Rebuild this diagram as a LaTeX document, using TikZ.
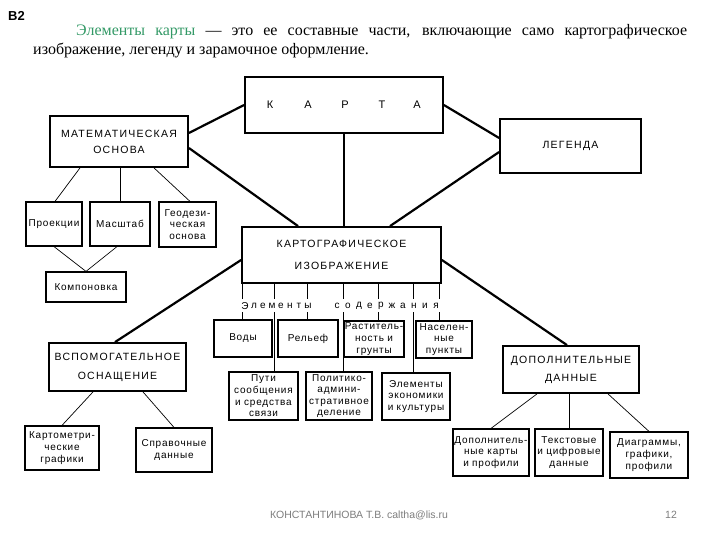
\documentclass[tikz,border=0pt]{standalone}
\usepackage{fontspec}
\setmainfont{Liberation Serif}
\setsansfont{Liberation Sans}
\newfontfamily\dfont[LetterSpace=8]{Liberation Sans}
\newfontfamily\capfont[LetterSpace=12]{Liberation Sans}
\usetikzlibrary{calc}
\definecolor{grn}{RGB}{51,153,102}
\definecolor{foot}{RGB}{125,125,125}
\begin{document}
\begin{tikzpicture}[x=1pt,y=-1pt,
  bx/.style 2 args={draw, line width=1.2pt, inner xsep=0pt, inner ysep=0pt,
    text width=#1, minimum height=#2, align=center,
    font=\dfont\fontsize{10}{11.6}\selectfont},
  big/.style={line width=1.8pt, font=\capfont\fontsize{10.5}{12}\selectfont},
  lbl/.style={inner sep=0pt, font=\dfont\fontsize{10}{12}\selectfont},
  thicklink/.style={line width=2.2pt},
  thinlink/.style={line width=0.7pt},
  tick/.style={line width=0.9pt}]
\useasboundingbox (0,0) rectangle (720,540);

% header
\node[anchor=base west, inner sep=0pt, font=\sffamily\bfseries\fontsize{13}{15}\selectfont] (b2) at (8,21) {B2};
\node[anchor=north west, inner sep=0pt, text width=654pt, align=justify,
  font=\fontsize{16}{19}\selectfont] (para) at (33,24.5)
  {\hspace*{43pt}\textcolor{grn}{Элементы карты} — это ее составные части, включающие само картографическое\linebreak изображение, легенду и зарамочное оформление.};

% main boxes
\node[bx={198}{56}, big] (karta) at (344,105) {};
\foreach \ch/\xx [count=\i] in {К/270,А/308,Р/345,Т/382,А/417}
  \node[lbl, font=\capfont\fontsize{11}{12}\selectfont] (kl\i) at (\xx,105) {\ch};
\node[bx={138}{51}, big] (mat) at (119,141.5) {МАТЕМАТИЧЕСКАЯ\\[4pt]ОСНОВА};
\node[bx={141}{54}, big] (leg) at (570.5,146) {ЛЕГЕНДА};
\node[bx={199}{56}, big] (kiz) at (341.5,255) {КАРТОГРАФИЧЕСКОЕ\\[10pt]ИЗОБРАЖЕНИЕ};
\node[bx={137}{48}, big] (vsp) at (117.5,367) {ВСПОМОГАТЕЛЬНОЕ\\[7pt]ОСНАЩЕНИЕ};
\node[bx={136}{47}, big] (dop) at (571,369.5) {ДОПОЛНИТЕЛЬНЫЕ\\[6pt]ДАННЫЕ};

% math children
\node[bx={56}{44}] (proj) at (54,224) {Проекции};
\node[bx={60}{44}] (masht) at (120,224) {Масштаб};
\node[bx={57}{45}] (geod) at (187.5,224.5) {Геодези-\\ческая\\основа};
\node[bx={80}{30}] (komp) at (86,287) {Компоновка};

% content elements
\node[bx={58}{37}] (vody) at (243,338.5) {Воды};
\node[bx={60}{37}] (relef) at (308,338.5) {Рельеф};
\node[bx={60}{36}] (rast) at (374,339) {Раститель-\\ность и\\грунты};
\node[bx={56}{37}] (nas) at (444,339.5) {Населен-\\ные\\пункты};
\node[bx={69}{48}] (puti) at (263.5,396) {Пути\\сообщения\\и средства\\связи};
\node[bx={66}{48}] (polit) at (339,396) {Политико-\\админи-\\стративное\\деление};
\node[bx={68}{47}] (econ) at (416,396.5) {Элементы\\экономики\\и культуры};

% auxiliary children
\node[bx={74}{44}] (kartom) at (62,448) {Картометри-\\ческие\\графики};
\node[bx={76}{44}] (sprav) at (174,450) {Справочные\\данные};

% additional children
\node[bx={76}{47}] (dopk) at (491,452.5) {Дополнитель-\\ные карты\\и профили};
\node[bx={68}{47}] (tekst) at (569,452.5) {Текстовые\\и цифровые\\данные};
\node[bx={78}{46}] (diag) at (649,455) {Диаграммы,\\графики,\\профили};

% thick connectors
\draw[thicklink] (karta.west) -- ([yshift=8.5pt]mat.east);
\draw[thicklink] ([yshift=-6.5pt]mat.east) -- ([xshift=-43.5pt]kiz.north);
\draw[thicklink] (karta.south) -- (karta.south |- kiz.north);
\draw[thicklink] (karta.east) -- ([yshift=8pt]leg.west);
\draw[thicklink] ([yshift=-6pt]leg.west) -- ([xshift=48.5pt]kiz.north);
\draw[thicklink] ([yshift=-5pt]kiz.east) -- ([xshift=-4pt]dop.north);
\draw[thicklink] ([yshift=-5pt]kiz.west) -- ([xshift=-2.5pt]vsp.north);

% thin connectors
\draw[thinlink] ([xshift=-39pt]mat.south) -- ([xshift=1pt]proj.north);
\draw[thinlink] (masht.north |- mat.south) -- (masht.north);
\draw[thinlink] ([xshift=35pt]mat.south) -- ([xshift=2.5pt]geod.north);
\draw[thinlink] (proj.south) -- (komp.north);
\draw[thinlink] ([xshift=-3pt]masht.south) -- (komp.north);
\draw[thinlink] ([xshift=-24.5pt]vsp.south) -- (kartom.north);
\draw[thinlink] ([xshift=25.5pt]vsp.south) -- (sprav.north);
\draw[thinlink] ([xshift=-34pt]dop.south) -- (dopk.north);
\draw[thinlink] (tekst.north |- dop.south) -- (tekst.north);
\draw[thinlink] ([xshift=37pt]dop.south) -- (diag.north);

% content ticks
\draw[tick] ([xshift=-1pt]vody.north) -- ([xshift=-1pt]vody.north |- kiz.south);
\draw[tick] ([xshift=10.5pt]puti.north) -- ([xshift=10.5pt]puti.north |- kiz.south);
\draw[tick] ([xshift=-1pt]relef.north) -- ([xshift=-1pt]relef.north |- kiz.south);
\draw[tick] ([xshift=4pt]polit.north) -- ([xshift=4pt]polit.north |- kiz.south);
\draw[tick] ([xshift=4pt]rast.north) -- ([xshift=4pt]rast.north |- kiz.south);
\draw[tick] ([xshift=-3pt]econ.north) -- ([xshift=-3pt]econ.north |- kiz.south);
\draw[tick] ([xshift=-5pt]nas.north) -- ([xshift=-5pt]nas.north |- kiz.south);

\node[fill=white, inner sep=0pt, minimum width=206pt, minimum height=13pt] (gap) at (341,305.5) {};
\foreach \ch/\xx [count=\i] in {Э/245,л/254,е/263,м/272,е/281,н/290,т/299,ы/308,
  с/337,о/348,д/359,е/370,р/381,ж/392,а/403,н/414,и/425,я/436}
  \node[lbl] (el\i) at (\xx,306) {\ch};

% footer
\node[anchor=west, inner sep=0pt, text=foot, font=\sffamily\fontsize{10.5}{12}\selectfont] (foot1) at (270,515) {КОНСТАНТИНОВА Т.В. caltha@lis.ru};
\node[inner sep=0pt, text=foot, font=\sffamily\fontsize{10.5}{12}\selectfont] (foot2) at (671,515) {12};
\end{tikzpicture}
\end{document}
